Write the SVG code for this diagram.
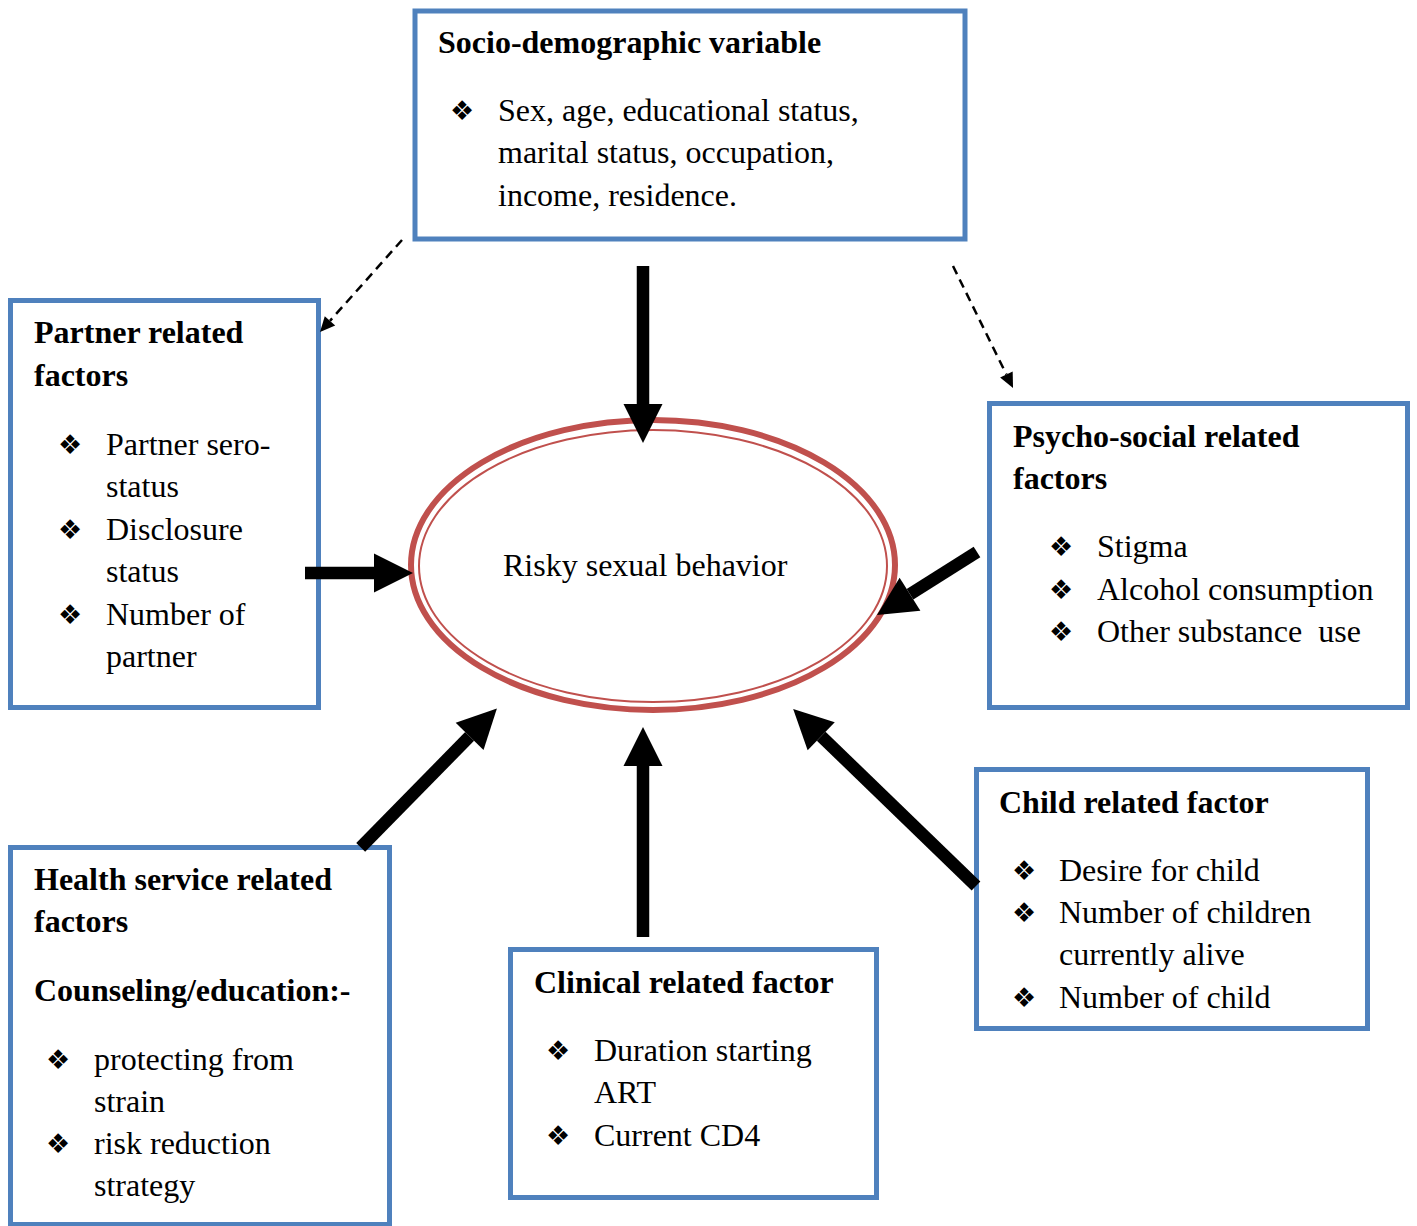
<svg xmlns="http://www.w3.org/2000/svg" width="1417" height="1226" viewBox="0 0 1417 1226">
<style>
.box{fill:#fff;stroke:#4F81BD;stroke-width:5}
.t{font-family:"Liberation Serif","Times New Roman",serif;font-size:32px;fill:#000}
.b{font-weight:bold}
.bul{font-family:"DejaVu Sans",sans-serif;font-size:27px;fill:#000}
.thick{stroke:#000;stroke-width:12.5;fill:none}
.dash{stroke:#000;stroke-width:2.5;stroke-dasharray:9 6;fill:none}
</style>
<defs>
<marker id="big" markerUnits="userSpaceOnUse" markerWidth="40" markerHeight="40" refX="0" refY="19.5" orient="auto" overflow="visible">
<path d="M0,0 L39,19.5 L0,39 Z" fill="#000"/>
</marker>
<marker id="small" markerUnits="userSpaceOnUse" markerWidth="16" markerHeight="14" refX="0" refY="7" orient="auto" overflow="visible">
<path d="M0,0 L15,7 L0,14 Z" fill="#000"/>
</marker>
</defs>
<rect width="1417" height="1226" fill="#fff"/>

<g id="risky">
<ellipse cx="653" cy="565" rx="242" ry="145" fill="#fff" stroke="#C0504D" stroke-width="6"/>
<ellipse cx="653" cy="566" rx="234" ry="136" fill="none" stroke="#C0504D" stroke-width="2"/>
<text class="t" x="503" y="576">Risky sexual behavior</text>
</g>

<g id="socio">
<rect class="box" x="415" y="11" width="550" height="228"/>
<text class="t b" x="438" y="53">Socio-demographic variable</text>
<text class="bul" x="450" y="120">❖</text>
<text class="t" x="498" y="121">Sex, age, educational status,</text>
<text class="t" x="498" y="163">marital status, occupation,</text>
<text class="t" x="498" y="206">income, residence.</text>
</g>

<g id="partner">
<rect class="box" x="10.5" y="300.5" width="308" height="407"/>
<text class="t b" x="34" y="343">Partner related</text>
<text class="t b" x="34" y="386">factors</text>
<text class="bul" x="58" y="454">❖</text>
<text class="t" x="106" y="455">Partner sero-</text>
<text class="t" x="106" y="497">status</text>
<text class="bul" x="58" y="539">❖</text>
<text class="t" x="106" y="540">Disclosure</text>
<text class="t" x="106" y="582">status</text>
<text class="bul" x="58" y="624">❖</text>
<text class="t" x="106" y="625">Number of</text>
<text class="t" x="106" y="667">partner</text>
</g>

<g id="psycho">
<rect class="box" x="989.5" y="403.5" width="418" height="304"/>
<text class="t b" x="1013" y="447">Psycho-social related</text>
<text class="t b" x="1013" y="489">factors</text>
<text class="bul" x="1049" y="556">❖</text>
<text class="t" x="1097" y="557">Stigma</text>
<text class="bul" x="1049" y="599">❖</text>
<text class="t" x="1097" y="600">Alcohol consumption</text>
<text class="bul" x="1049" y="641">❖</text>
<text class="t" x="1097" y="642" xml:space="preserve">Other substance  use</text>
</g>

<g id="child">
<rect class="box" x="976.5" y="769.5" width="391" height="259"/>
<text class="t b" x="999" y="813">Child related factor</text>
<text class="bul" x="1012" y="880">❖</text>
<text class="t" x="1059" y="881">Desire for child</text>
<text class="bul" x="1012" y="922">❖</text>
<text class="t" x="1059" y="923">Number of children</text>
<text class="t" x="1059" y="965">currently alive</text>
<text class="bul" x="1012" y="1007">❖</text>
<text class="t" x="1059" y="1008">Number of child</text>
</g>

<g id="clinical">
<rect class="box" x="510.5" y="949.5" width="366" height="248"/>
<text class="t b" x="534" y="993">Clinical related factor</text>
<text class="bul" x="546" y="1060">❖</text>
<text class="t" x="594" y="1061">Duration starting</text>
<text class="t" x="594" y="1103">ART</text>
<text class="bul" x="546" y="1145">❖</text>
<text class="t" x="594" y="1146">Current CD4</text>
</g>

<g id="health">
<rect class="box" x="10.5" y="847.5" width="379" height="377"/>
<text class="t b" x="34" y="890">Health service related</text>
<text class="t b" x="34" y="932">factors</text>
<text class="t b" x="34" y="1001">Counseling/education:-</text>
<text class="bul" x="46" y="1069">❖</text>
<text class="t" x="94" y="1070">protecting from</text>
<text class="t" x="94" y="1112">strain</text>
<text class="bul" x="46" y="1153">❖</text>
<text class="t" x="94" y="1154">risk reduction</text>
<text class="t" x="94" y="1196">strategy</text>
</g>

<g id="connectors">
<line class="thick" x1="643" y1="266" x2="643" y2="404" marker-end="url(#big)"/>
<line class="thick" x1="305" y1="573" x2="374" y2="573" marker-end="url(#big)"/>
<line class="thick" x1="977" y1="552" x2="910" y2="594.2" marker-end="url(#big)"/>
<line class="thick" x1="360.7" y1="847.4" x2="469.6" y2="736.4" marker-end="url(#big)"/>
<line class="thick" x1="643" y1="937" x2="643" y2="766" marker-end="url(#big)"/>
<line class="thick" x1="976" y1="886" x2="821.2" y2="736.2" marker-end="url(#big)"/>
<line class="dash" x1="402" y1="240" x2="330" y2="320.8" marker-end="url(#small)"/>
<line class="dash" x1="953" y1="266" x2="1006.4" y2="374.5" marker-end="url(#small)"/>
</g>
</svg>
